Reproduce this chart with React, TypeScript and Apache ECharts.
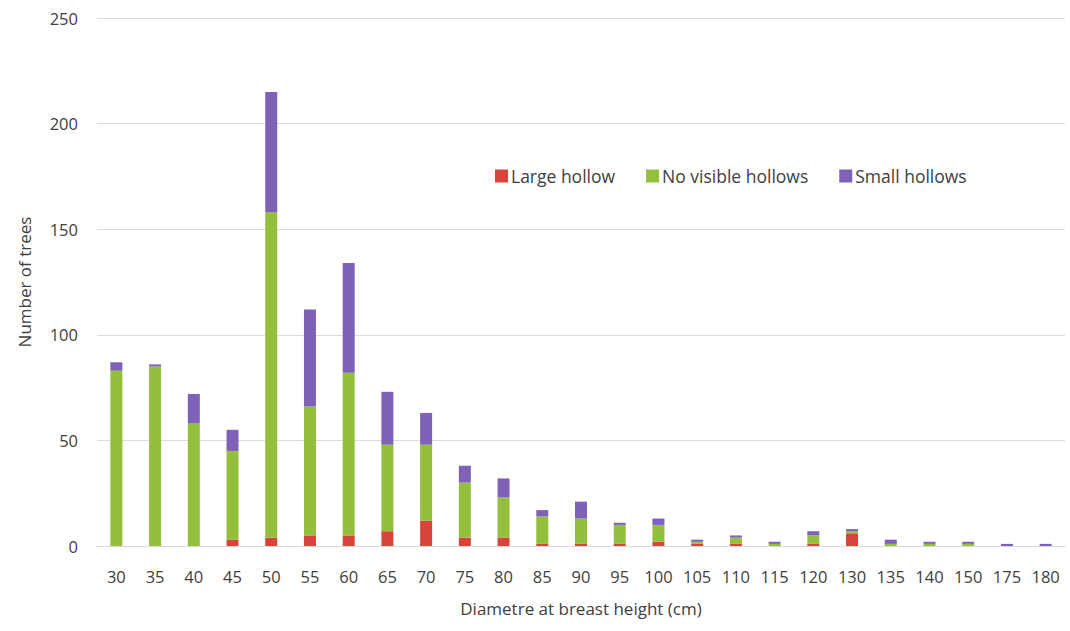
import React, { useEffect, useRef } from "react";
import * as echarts from "echarts";

const categories = ["30","35","40","45","50","55","60","65","70","75","80","85","90","95","100","105","110","115","120","130","135","140","150","175","180"];
const largeHollow = [0,0,0,3,4,5,5,7,12,4,4,1,1,1,2,1,1,0,1,6,0,0,0,0,0];
const noVisible =   [83,85,58,42,154,61,77,41,36,26,19,13,12,9,8,1,3,1,4,1,1,1,1,0,0];
const smallHollows =[4,1,14,10,57,46,52,25,15,8,9,3,8,1,3,1,1,1,2,1,2,1,1,1,1];
const yTicks = { min: 0, max: 250, interval: 50 };

export default function App() {
  const ref = useRef<HTMLDivElement>(null);
  useEffect(() => {
    const chart = echarts.init(ref.current!, null, { renderer: "svg" });
    const font = "'Open Sans', 'Liberation Sans', sans-serif";
    const mk = (name: string, data: number[], color: string) => ({
      name, type: "bar", stack: "total", data, barWidth: 12,
      itemStyle: { color },
    });
    chart.setOption({
      animation: false,
      backgroundColor: "#ffffff",
      textStyle: { fontFamily: font },
      grid: { left: 97, right: 5, top: 18, bottom: 85 },
      legend: {
        left: 490, top: 162, itemWidth: 13, itemHeight: 13, itemGap: 31,
        textStyle: { fontSize: 17.5, color: "#404040", fontFamily: font, padding: [0, 0, 0, -2] },
        data: [
          { name: "Large hollow", icon: "rect" },
          { name: "No visible hollows", icon: "rect" },
          { name: "Small hollows", icon: "rect" },
        ],
      },
      xAxis: {
        type: "category", data: categories,
        name: "Diametre at breast height (cm)", nameLocation: "middle", nameGap: 54,
        nameTextStyle: { fontSize: 17, color: "#404040", fontFamily: font },
        axisLine: { lineStyle: { color: "#d9d9d9" } },
        axisTick: { show: false },
        axisLabel: { fontSize: 16.5, color: "#404040", margin: 22, interval: 0, fontFamily: font },
      },
      yAxis: {
        type: "value", ...yTicks,
        name: "Number of trees", nameLocation: "middle", nameGap: 64,
        nameTextStyle: { fontSize: 17, color: "#404040", fontFamily: font },
        axisLine: { show: false }, axisTick: { show: false },
        axisLabel: { fontSize: 16.5, color: "#404040", margin: 19, fontFamily: font },
        splitLine: { lineStyle: { color: "#dcdcdc" } },
      },
      series: [
        mk("Large hollow", largeHollow, "#d8433a"),
        mk("No visible hollows", noVisible, "#94bf3c"),
        mk("Small hollows", smallHollows, "#7e62b8"),
      ],
    });
    return () => chart.dispose();
  }, []);
  return <div ref={ref} style={{ width: 1070, height: 631, position: "absolute", left: 0, top: 0 }} />;
}
